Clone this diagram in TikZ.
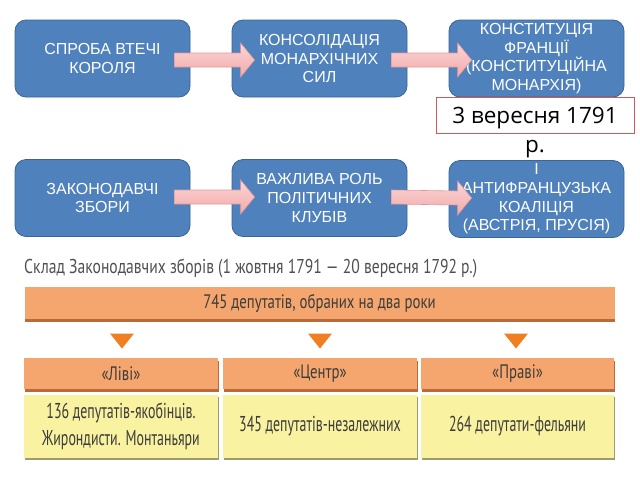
\documentclass[tikz,border=0pt]{standalone}
\usepackage{fontspec}
\setmainfont{Liberation Sans}
\newfontfamily\condfont[FakeStretch=0.76]{PT Sans}
\newfontfamily\condfontt[FakeStretch=0.78]{PT Sans}
\newfontfamily\condfontb[FakeStretch=0.647]{PT Sans}
\newfontfamily\datefont{Open Sans}
\usetikzlibrary{calc,shadows}
\definecolor{boxblue}{HTML}{4F81BD}
\definecolor{boxedge}{HTML}{3A6595}
\definecolor{pinkA}{HTML}{FBD6D6}
\definecolor{pinkB}{HTML}{F2A9A9}
\definecolor{pinkedge}{HTML}{E39797}
\definecolor{dateedge}{HTML}{CC5A5A}
\definecolor{orfill}{HTML}{F5A66E}
\definecolor{ordark}{HTML}{B86A3A}
\definecolor{trior}{HTML}{F07F22}
\definecolor{yelfill}{HTML}{F9F2A0}
\definecolor{yeldark}{HTML}{9E9A72}
\definecolor{txtgray}{HTML}{3C3C3C}
\newcommand\blockarrow[3]{%
  \path[pinkarrow]
    ($(#1.east)+(-16,#3-7)$) -- ($(#2.west)+(9,#3-7)$) -- ($(#2.west)+(9,#3-17)$)
    -- ($(#2.west)+(23,#3)$) -- ($(#2.west)+(9,#3+17)$) -- ($(#2.west)+(9,#3+7)$)
    -- ($(#1.east)+(-16,#3+7)$) -- cycle;}
\begin{document}
\begin{tikzpicture}[x=1pt,y=-1pt,
  bluebox/.style={draw=boxedge,line width=0.8pt,fill=boxblue,rounded corners=11pt,
    minimum width=175pt,minimum height=77pt,text=white,align=center,
    font=\fontsize{16}{18.7}\selectfont,inner sep=0pt},
  pinkarrow/.style={draw=pinkedge,line width=0.6pt,top color=pinkA,bottom color=pinkB,line join=miter},
  orcell/.style={fill=orfill,inner sep=0pt,text=txtgray,
    font=\condfont\fontsize{19.5}{22}\selectfont,
    drop shadow={shadow xshift=0.8pt,shadow yshift=-3pt,fill=ordark,opacity=1}},
  yelcell/.style={fill=yelfill,inner sep=0pt,text=txtgray,align=center,
    font=\condfontb\fontsize{21.5}{27}\selectfont,
    drop shadow={shadow xshift=0.8pt,shadow yshift=-2.5pt,fill=yeldark,opacity=1}},
  tri/.style={fill=trior,draw=none}
]
\useasboundingbox (0,0) rectangle (640,480);
\fill[white] (0,0) rectangle (640,480);
% top row
\node[bluebox] (b1) at (102.5,58.5) {СПРОБА ВТЕЧІ\\КОРОЛЯ};
\node[bluebox] (b2) at (319.5,58.5) {КОНСОЛІДАЦІЯ\\МОНАРХІЧНИХ\\СИЛ};
\node[bluebox] (b3) at (536.5,58.5) {КОНСТИТУЦІЯ\\ФРАНЦІЇ\\(КОНСТИТУЦІЙНА\\МОНАРХІЯ)};
% second row
\node[bluebox] (c1) at (102.5,198) {ЗАКОНОДАВЧІ\\ЗБОРИ};
\node[bluebox] (c2) at (319.5,198) {ВАЖЛИВА РОЛЬ\\ПОЛІТИЧНИХ\\КЛУБІВ};
\node[bluebox] (c3) at (536.5,199) {І\\АНТИФРАНЦУЗЬКА\\КОАЛІЦІЯ\\(АВСТРІЯ, ПРУСІЯ)};
% arrows
\blockarrow{b1}{b2}{1.5}
\blockarrow{b2}{b3}{1.5}
\blockarrow{c1}{c2}{-1}
\blockarrow{c2}{c3}{-1}
% date box
\node[draw=dateedge,line width=1pt,fill=white,minimum width=198pt,minimum height=36pt,inner sep=0pt] (d) at (535,115) {};
\node[font=\datefont\fontsize{22.5}{29}\selectfont,align=center,text=black,anchor=base,inner sep=0pt] (dt) at (535,152) {3 вересня 1791\\р.};
% bottom table
\node[anchor=west,text=txtgray!90,font=\condfontt\fontsize{20}{22}\selectfont,inner sep=0pt] (title) at (24,268) {Склад Законодавчих зборів (1 жовтня 1791 — 20 вересня 1792 р.)};
\node[orcell,minimum width=590pt,minimum height=32pt] (top) at (319.5,303) {745 депутатів, обраних на два роки};
\node[orcell,minimum width=194pt,minimum height=31pt] (o1) at (121,373.5) {«Ліві»};
\node[orcell,minimum width=194pt,minimum height=31pt] (o2) at (320,373.5) {«Центр»};
\node[orcell,minimum width=193pt,minimum height=31pt] (o3) at (517.5,373.5) {«Праві»};
\node[yelcell,minimum width=194pt,minimum height=63pt] (y1) at (121,426) {136 депутатів-якобінців.\\Жирондисти. Монтаньяри};
\node[yelcell,minimum width=194pt,minimum height=63pt] (y2) at (320,426) {345 депутатів-незалежних};
\node[yelcell,minimum width=193pt,minimum height=63pt] (y3) at (517.5,426) {264 депутати-фельяни};
% triangles
\foreach \n/\xx in {t1/122,t2/320,t3/516}{
  \coordinate (\n) at (\xx,341);
  \fill[tri] ($(\n)+(-12,-7.5)$) -- ($(\n)+(12,-7.5)$) -- ($(\n)+(0,7.5)$) -- cycle;
}
\end{tikzpicture}
\end{document}
